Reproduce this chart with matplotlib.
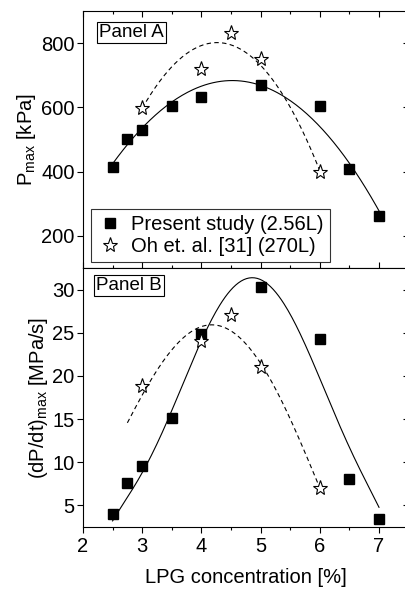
import numpy as np
import matplotlib
matplotlib.use("Agg")
import matplotlib.pyplot as plt
from matplotlib.ticker import MultipleLocator

plt.rcParams['font.family'] = ['Liberation Sans', 'DejaVu Sans']
plt.rcParams['mathtext.fontset'] = 'custom'
plt.rcParams['mathtext.rm'] = 'Liberation Sans'

# ---- data
# Panel A: peak pressure
x_present = [2.5, 2.75, 3.0, 3.5, 4.0, 5.0, 6.0, 6.5, 7.0]
p_present = [413, 500, 530, 605, 633, 670, 603, 408, 262]
x_oh = [3.0, 4.0, 4.5, 5.0, 6.0]
p_oh = [598, 720, 830, 750, 400]

# Panel B: max rate of pressure rise
dp_present = [4.0, 7.6, 9.6, 15.1, 24.8, 30.3, 24.3, 8.1, 3.4]
dp_oh = [18.8, 24.0, 27.0, 21.0, 7.0]

# fit curves, sampled from the figure
fitA_x = [2.5, 3.0, 3.5, 4.0, 4.5, 5.0, 5.5, 6.0, 6.5, 7.0]
fitA_y = [428, 535, 610, 660, 688, 676, 635, 528, 412, 288]
fitA_oh_x = [3.0, 3.5, 4.0, 4.35, 4.5, 5.0, 5.5, 6.0]
fitA_oh_y = [598, 725, 790, 800, 798, 735, 594, 405]
fitB_x = [2.5, 3.0, 3.5, 4.0, 4.5, 4.85, 5.0, 5.5, 6.0, 6.5, 7.0]
fitB_y = [3.2, 8.8, 16.0, 24.0, 30.0, 31.5, 31.2, 26.8, 20.0, 11.6, 4.8]
fitB_oh_x = [2.75, 3.0, 3.5, 4.0, 4.2, 4.5, 5.0, 5.5, 6.0]
fitB_oh_y = [14.3, 18.3, 22.7, 25.6, 25.9, 25.4, 21.6, 14.8, 7.1]

yticksA = [200, 400, 600, 800]
yticksB = [5, 10, 15, 20, 25, 30]


def smooth(xs, ys, deg):
    c = np.polyfit(xs, ys, deg)
    xx = np.linspace(xs[0], xs[-1], 200)
    return xx, np.polyval(c, xx)


fig = plt.figure(figsize=(4.06, 5.90), dpi=100)
axA = fig.add_axes([0.2044, 0.5458, 0.802, 0.4356])
axB = fig.add_axes([0.2044, 0.1068, 0.802, 0.4390])

fs = 14.5
for ax, yt in ((axA, yticksA), (axB, yticksB)):
    ax.set_xlim(2, 7.5)
    ax.xaxis.set_major_locator(MultipleLocator(1))
    ax.xaxis.set_minor_locator(MultipleLocator(0.5))
    ax.set_yticks(yt)
    ax.tick_params(axis='y', which='major', direction='out', length=4, width=0.8,
                   labelsize=fs, pad=2)
    ax.tick_params(axis='x', which='major', length=4, width=0.8, labelsize=fs, top=True)
    ax.tick_params(axis='x', which='minor', length=2.5, width=0.8, top=True)
    ax.spines['right'].set_visible(False)
    for s in ax.spines.values():
        s.set_linewidth(0.8)
    # inward ticks on the (cut off) right side
    sec = ax.secondary_yaxis('right')
    sec.set_yticks(yt)
    sec.tick_params(direction='in', length=4, width=0.8, labelright=False)
    for s in sec.spines.values():
        s.set_visible(False)

axA.tick_params(axis='x', which='both', direction='in', labelbottom=False)
axB.tick_params(axis='x', which='both', direction='out')
axB.tick_params(axis='x', which='both', top=False)

# ---- panel A
xx, yy = smooth(fitA_x, fitA_y, 3)
axA.plot(xx, yy, 'k-', lw=0.8)
xx, yy = smooth(fitA_oh_x, fitA_oh_y, 3)
axA.plot(xx, yy, 'k--', lw=0.8, dashes=(4, 3))
axA.plot(x_present, p_present, 's', color='black', ms=7, label='Present study (2.56L)')
axA.plot(x_oh, p_oh, '*', mfc='white', mec='black', mew=0.8, ms=11,
         label='Oh et. al. [31] (270L)')
axA.set_ylim(100, 900)
axA.set_ylabel(r'P$_{\rm max}$ [kPa]', fontsize=fs, labelpad=2)
axA.text(0.05, 0.95, 'Panel A', transform=axA.transAxes, fontsize=13.5, va='top',
         bbox=dict(boxstyle='square,pad=0.12', fc='white', ec='black', lw=0.8))
leg = axA.legend(loc='lower left', bbox_to_anchor=(0.025, 0.023), fontsize=fs,
                 frameon=True, fancybox=False, borderpad=0.3, handletextpad=0.4,
                 handlelength=1.3, labelspacing=0.15, borderaxespad=0)
leg.get_frame().set_edgecolor('black')
leg.get_frame().set_linewidth(0.8)

# ---- panel B
xx, yy = smooth(fitB_x, fitB_y, 6)
axB.plot(xx, yy, 'k-', lw=0.8)
xx, yy = smooth(fitB_oh_x, fitB_oh_y, 4)
axB.plot(xx, yy, 'k--', lw=0.8, dashes=(4, 3))
axB.plot(x_present, dp_present, 's', color='black', ms=7)
axB.plot(x_oh, dp_oh, '*', mfc='white', mec='black', mew=0.8, ms=11)
axB.set_ylim(2.5, 32.5)
axB.set_ylabel(r'(dP/dt)$_{\rm max}$ [MPa/s]', fontsize=fs, labelpad=2)
axB.set_xlabel('LPG concentration [%]', fontsize=fs, labelpad=8)
axB.text(0.04, 0.965, 'Panel B', transform=axB.transAxes, fontsize=13.5, va='top',
         bbox=dict(boxstyle='square,pad=0.12', fc='white', ec='black', lw=0.8))

fig.savefig('out.png', dpi=100)
